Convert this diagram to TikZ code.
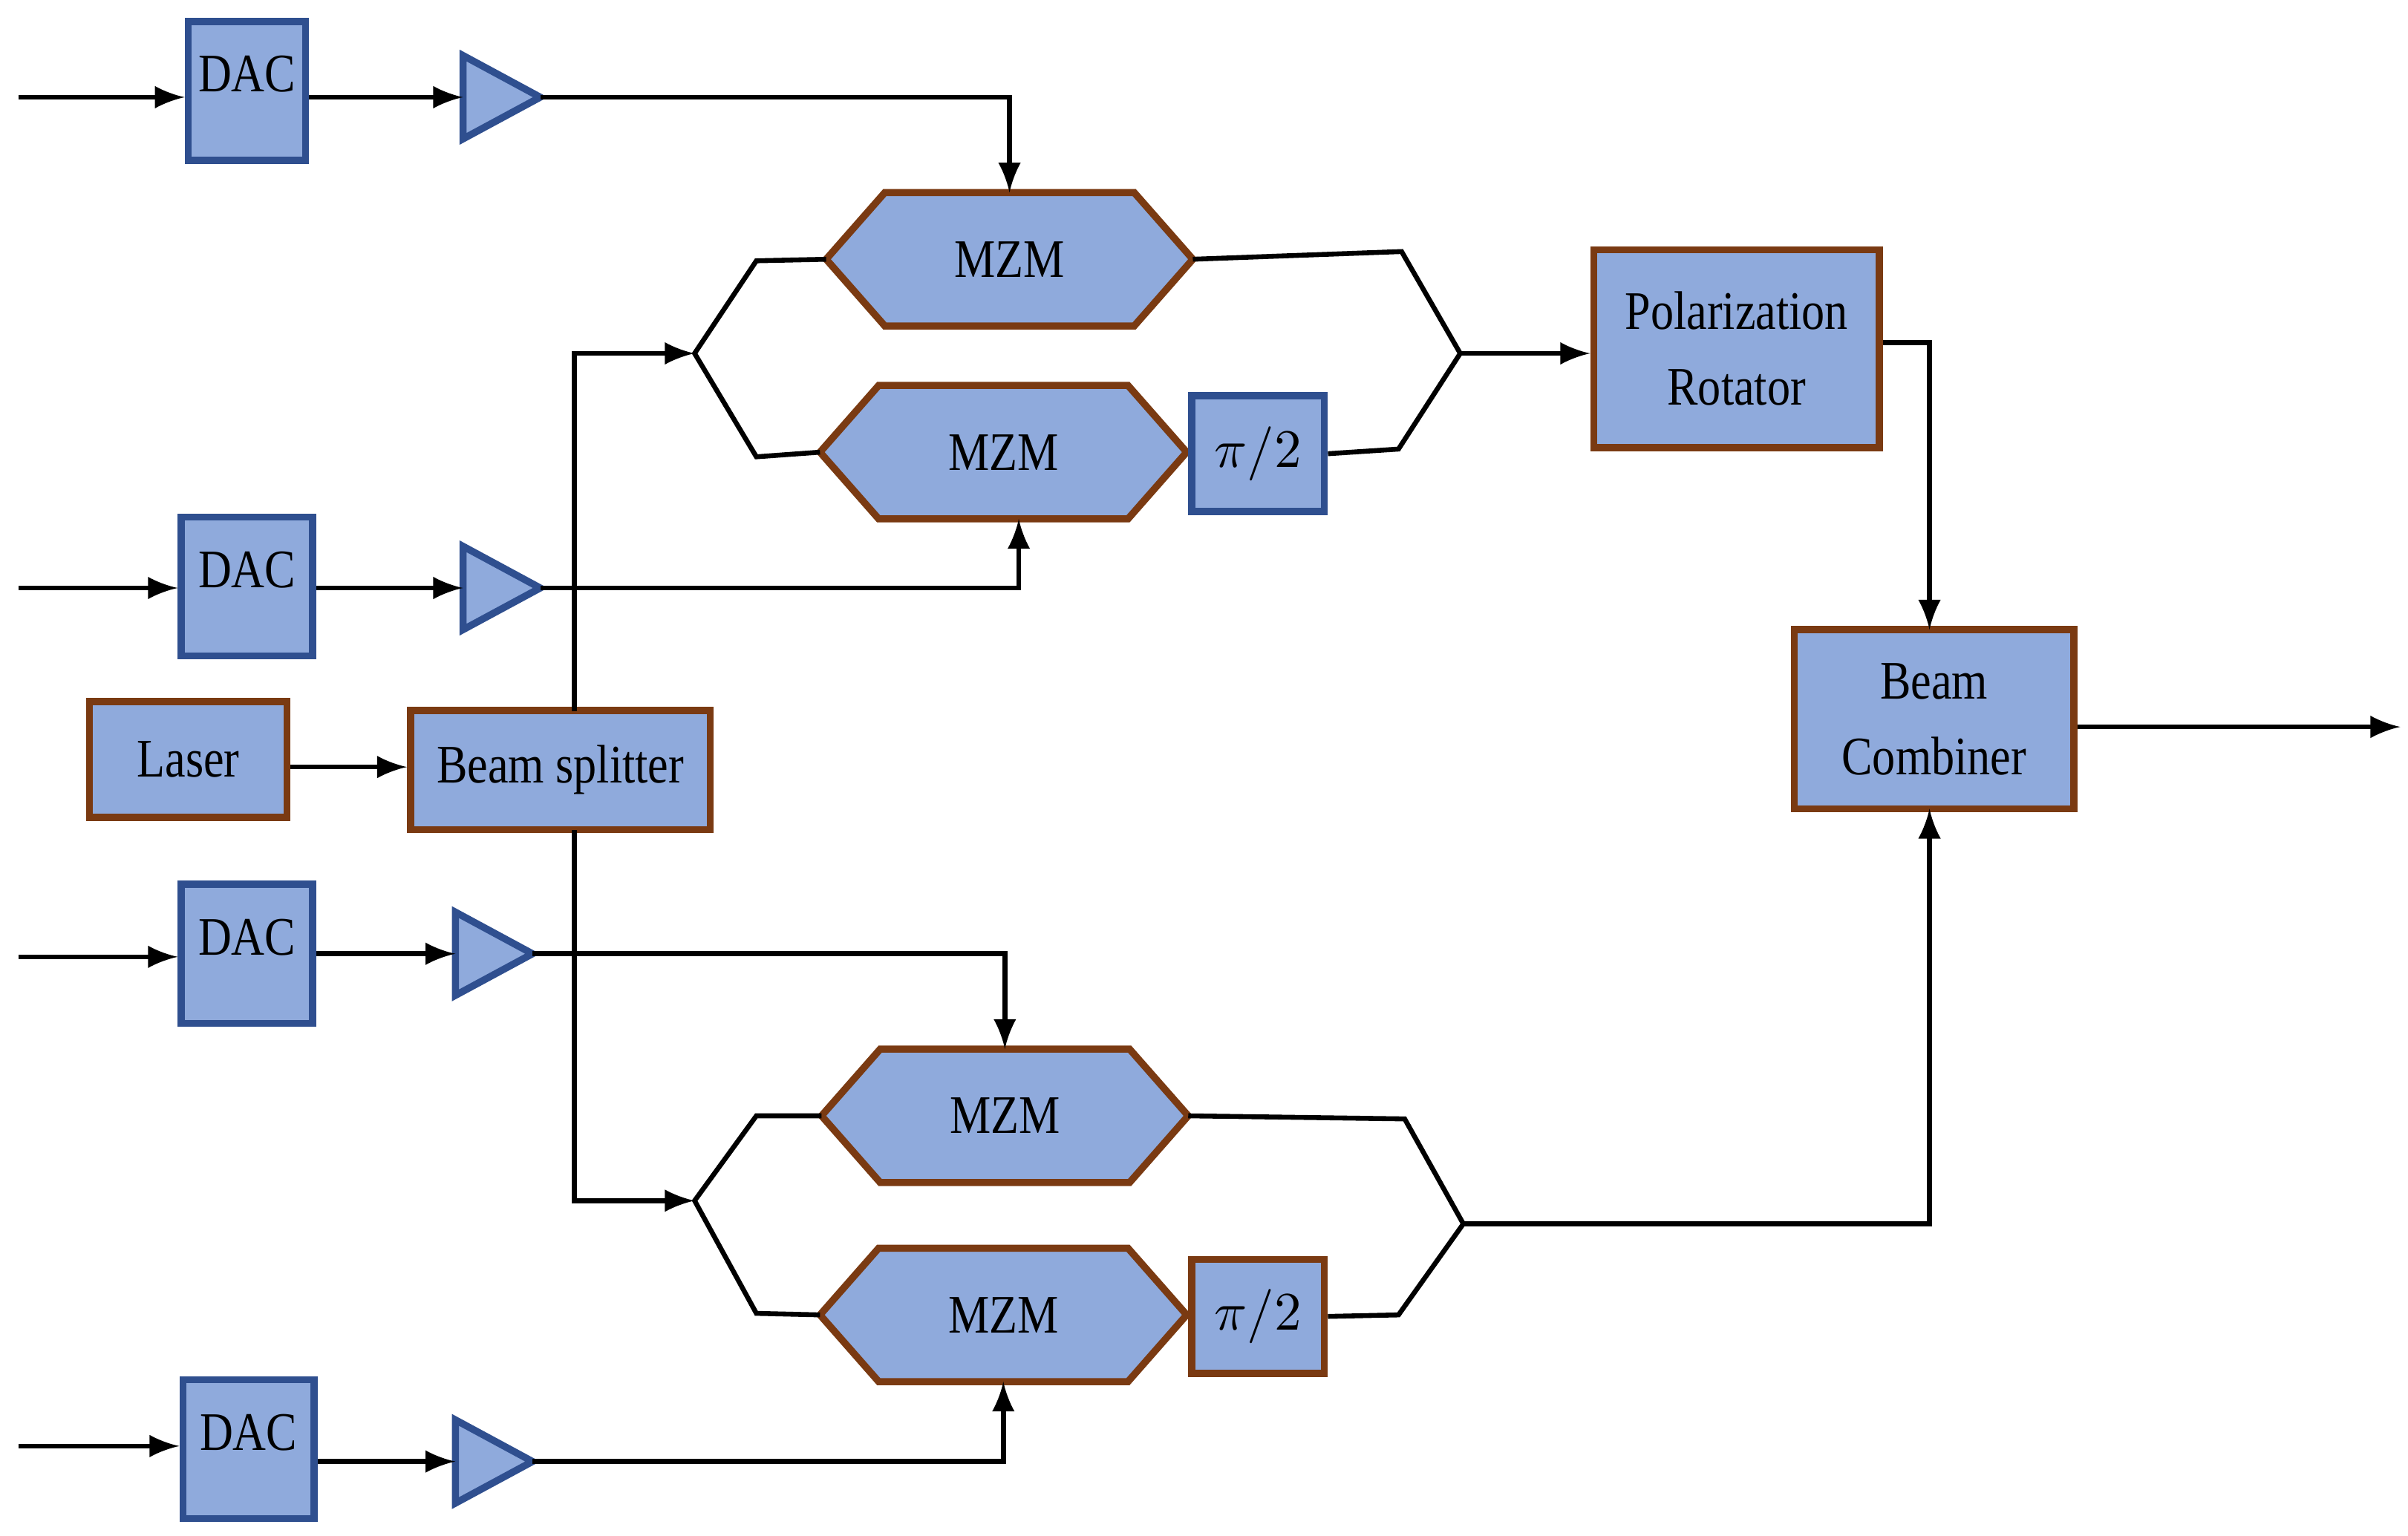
\documentclass[tikz,border=0pt]{standalone}
\usepackage{fontspec}
\setmainfont{Liberation Serif}[FakeStretch=0.85]
\usetikzlibrary{calc}

\definecolor{boxfill}{HTML}{8FAADC}
\definecolor{bluedge}{HTML}{2F4F8F}
\definecolor{brownedge}{HTML}{7A3A12}

\tikzset{
  blk/.style={draw=#1, fill=boxfill, line width=1.3pt, inner sep=0pt,
    font=\fontsize{10}{12}\selectfont, align=center},
  blk/.default=brownedge,
  dac/.style={blk=bluedge, minimum height=0.9cm, text depth=0.22cm},
  sig/.style={line width=0.9pt, -latex},
  wire/.style={line width=0.9pt},
}

% Verstaerker: Dreieck mit Ein- und Ausgang
\newcommand{\amplifier}[3]{%
  \coordinate (#1-in) at (#2,#3);
  \coordinate (#1-out) at (#2+50,#3);
  \draw[fill=boxfill, draw=bluedge, line width=1.3pt]
    (#2,#3-27) -- (#1-out) -- (#2,#3+27) -- cycle;}

% Mach-Zehnder-Modulator als Sechseck
\newcommand{\mzm}[3]{%
  \node[minimum width=2.36cm, minimum height=0.85cm, inner sep=0pt,
        font=\fontsize{10}{12}\selectfont] (#1) at (#2,#3) {MZM};
  \draw[fill=boxfill, draw=brownedge, line width=1.3pt]
    (#1.west) -- ($(#1.north west)+(38,0)$) -- ($(#1.north east)+(-38,0)$)
    -- (#1.east) -- ($(#1.south east)+(-38,0)$) -- ($(#1.south west)+(38,0)$) -- cycle;
  \node[font=\fontsize{10}{12}\selectfont] at (#1) {MZM};}

\begin{document}
\begin{tikzpicture}[x=0.01cm, y=-0.01cm]
  \useasboundingbox (0,0) rectangle (1560,995);

  %--- DACs und Verstaerker
  \node[dac, minimum width=0.76cm] (dac1) at (160,59) {DAC};
  \node[dac, minimum width=0.85cm] (dac2) at (160,380) {DAC};
  \node[dac, minimum width=0.85cm] (dac3) at (160,618) {DAC};
  \node[dac, minimum width=0.85cm] (dac4) at (161,939) {DAC};
  \amplifier{amp1}{300}{63}
  \amplifier{amp2}{300}{381}
  \amplifier{amp3}{295}{618}
  \amplifier{amp4}{295}{947}

  \coordinate (in1) at (12,63);
  \coordinate (in2) at (12,381);
  \coordinate (in3) at (12,620);
  \coordinate (in4) at (12,937);
  \draw[sig] (in1) -- (in1 -| dac1.west);
  \draw[sig] (in2) -- (in2 -| dac2.west);
  \draw[sig] (in3) -- (in3 -| dac3.west);
  \draw[sig] (in4) -- (in4 -| dac4.west);
  \draw[sig] (amp1-in -| dac1.east) -- (amp1-in);
  \draw[sig] (amp2-in -| dac2.east) -- (amp2-in);
  \draw[sig] (amp3-in -| dac3.east) -- (amp3-in);
  \draw[sig] (amp4-in -| dac4.east) -- (amp4-in);

  %--- Laser und Strahlteiler
  \node[blk, minimum width=1.28cm, minimum height=0.75cm] (laser) at (122,492) {Laser};
  \node[blk, minimum width=1.94cm, minimum height=0.77cm] (bs) at (363,499) {Beam splitter};
  \draw[sig] (laser.east |- 0,497) -- (bs.west |- 0,497);

  %--- Modulatoren
  \mzm{mzm1}{654}{168}
  \mzm{mzm2}{650}{293}
  \mzm{mzm3}{651}{723}
  \mzm{mzm4}{650}{852}
  \node[blk=bluedge, minimum width=0.86cm, minimum height=0.75cm] (ph1) at (815,294) {$\pi/2$};
  \node[blk, minimum width=0.86cm, minimum height=0.74cm] (ph2) at (815,853) {$\pi/2$};

  \draw[sig] (amp1-out) -| (mzm1.north);
  \draw[sig] (amp2-out) -| ([xshift=0.1cm]mzm2.south);
  \draw[sig] (amp3-out) -| (mzm3.north);
  \draw[sig] (amp4-out) -| (mzm4.south);

  %--- Interferometer oben
  \coordinate (sp1) at (450,229);
  \coordinate (jn1) at (946,229);
  \draw[sig] (372,461) -- (372,229) -- (sp1);
  \draw[wire] (mzm1.west) -- (490,169) -- (sp1) -- (490,296) -- (mzm2.west);
  \draw[wire] (mzm1.east) -- (908,163) -- (jn1) -- (906,291) -- (ph1.east);

  %--- Interferometer unten
  \coordinate (sp2) at (450,778);
  \coordinate (jn2) at (948,793);
  \draw[sig] (372,538) -- (372,778) -- (sp2);
  \draw[wire] (mzm3.west) -- (490,723) -- (sp2) -- (490,851) -- (mzm4.west);
  \draw[wire] (mzm3.east) -- (910,725) -- (jn2) -- (906,852) -- (ph2.east);

  %--- Polarisation und Kombinierer
  \node[blk, minimum width=1.85cm, minimum height=1.28cm] (pr) at (1125,226) {Polarization\\[2pt]Rotator};
  \node[blk, minimum width=1.81cm, minimum height=1.16cm] (bc) at (1253,466) {Beam\\[2pt]Combiner};
  \coordinate (out) at (1555,471);
  \draw[sig] (jn1) -- (pr.west |- jn1);
  \draw[sig] (pr.east |- 0,222) -- (1250,222) -- (1250,408);
  \draw[sig] (jn2) -- (1250,793) -- (1250,524);
  \draw[sig] (bc.east |- out) -- (out);
\end{tikzpicture}
\end{document}
